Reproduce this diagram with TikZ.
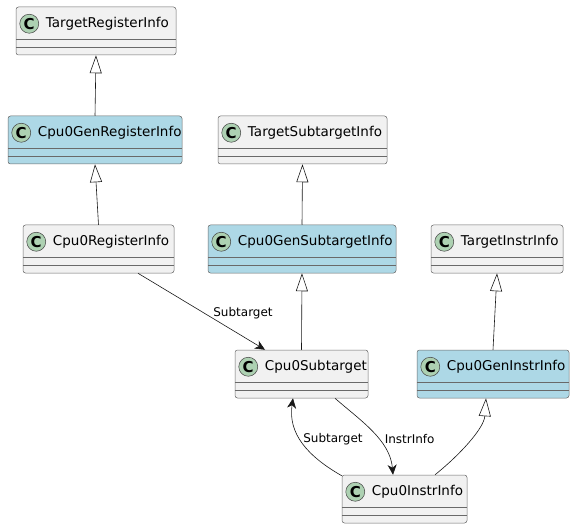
\documentclass[tikz,border=0pt]{standalone}
\usepackage{fontspec}
\setmainfont{DejaVu Sans}
\usetikzlibrary{arrows.meta}
\definecolor{umlgrey}{HTML}{F1F1F1}
\definecolor{umlblue}{HTML}{ADD8E6}
\definecolor{umlline}{HTML}{181818}
\definecolor{umlicon}{HTML}{ADD1B2}

\begin{document}
\begin{tikzpicture}[x=1pt,y=-1pt,
  cls/.style={draw=umlline!65,line width=0.5pt,rounded corners=2.5pt,minimum height=48pt,inner sep=0pt},
  icon/.style={circle,draw=umlline!80,line width=0.5pt,fill=umlicon,minimum size=19pt,inner sep=0pt,font=\bfseries\fontsize{15}{15}\selectfont},
  inh/.style={-{Triangle[open,length=18pt,width=12pt]},line width=0.6pt,draw=umlline},
  assoc/.style={-{Stealth[length=10pt,width=9pt,inset=3pt]},line width=0.6pt,draw=umlline},
  lbl/.style={font=\fontsize{12}{14}\selectfont,inner sep=0pt}]
  \useasboundingbox (0,0) rectangle (575,529);
  % classes
  \foreach \n/\x/\y/\w/\f/\t in {
      tgtReg/96/31/160/umlgrey/TargetRegisterInfo,
      genReg/95/140/174/umlblue/Cpu0GenRegisterInfo,
      cpuReg/98.5/249/151/umlgrey/Cpu0RegisterInfo,
      tgtSub/302.5/140/169/umlgrey/TargetSubtargetInfo,
      genSub/302/249/188/umlblue/Cpu0GenSubtargetInfo,
      tgtInstr/497/249/132/umlgrey/TargetInstrInfo,
      genInstr/493/374/152/umlblue/Cpu0GenInstrInfo,
      cpuSub/301.5/374/133/umlgrey/Cpu0Subtarget,
      cpuInstr/404.5/499/125/umlgrey/Cpu0InstrInfo}{
    \node[cls,fill=\f,minimum width=\w pt] (\n) at (\x,\y) {};
    \draw[umlline!65,line width=0.5pt]
      ([yshift=-32.5pt]\n.north west) -- ([yshift=-32.5pt]\n.north east)
      ([yshift=-40.5pt]\n.north west) -- ([yshift=-40.5pt]\n.north east);
    \node[icon] (\n-icon) at ([xshift=13.5pt,yshift=-17pt]\n.north west) {C};
    \node[anchor=base west,inner sep=0pt,font=\fontsize{13.5}{16}\selectfont]
      (\n-name) at ([xshift=30pt,yshift=-21pt]\n.north west) {\t};
  }
  % inheritance
  \draw[inh] (genReg.north) -- (tgtReg.south);
  \draw[inh] (cpuReg.north) -- (genReg.south);
  \draw[inh] (genSub.north) -- (tgtSub.south);
  \draw[inh] (cpuSub.north) -- (genSub.south);
  \draw[inh] (genInstr.north) -- (tgtInstr.south);
  \draw[inh] ([xshift=30.5pt]cpuInstr.north) .. controls +(25,-20) and +(-2,30) .. ([xshift=-7pt]genInstr.south);
  % associations
  \draw[assoc] ([xshift=39.5pt]cpuReg.south) -- ([xshift=-36.5pt]cpuSub.north)
    node[lbl,pos=0.52,anchor=west,xshift=9pt] (regSubLbl) {Subtarget};
  \draw[assoc] ([xshift=33.5pt]cpuSub.south) .. controls +(25,22) and +(-3,-35) .. ([xshift=-11.5pt]cpuInstr.north)
    node[lbl,pos=0.6,anchor=west,xshift=6pt] (instrLbl) {InstrInfo};
  \draw[assoc] ([yshift=-1pt]cpuInstr.north west) .. controls +(-35,-20) and +(-5,35) .. ([xshift=-8.5pt]cpuSub.south)
    node[lbl,pos=0.55,anchor=west,xshift=3pt] (subLbl) {Subtarget};
\end{tikzpicture}
\end{document}
